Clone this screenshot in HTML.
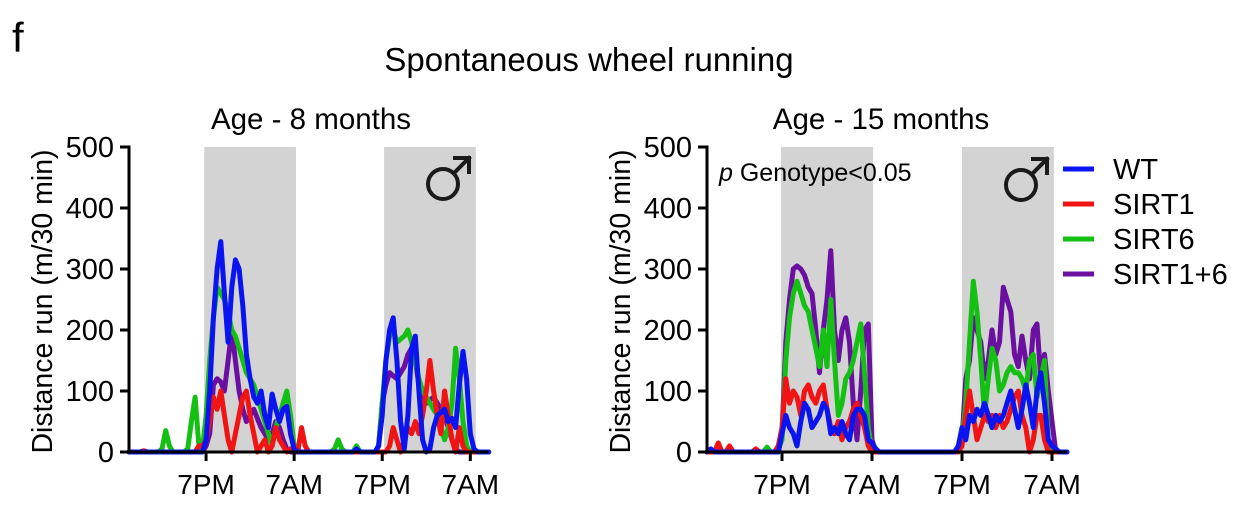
<!DOCTYPE html>
<html><head><meta charset="utf-8">
<style>
html,body{margin:0;padding:0;background:#fff;}
svg{display:block;font-family:"Liberation Sans",Arial,sans-serif;}
</style></head>
<body>
<svg id="fig" width="1238" height="517" viewBox="0 0 1238 517">
<text x="12" y="52" font-size="42">f</text>
<text x="589" y="71" font-size="33" text-anchor="middle">Spontaneous wheel running</text>
<text x="311" y="129" font-size="29.5" text-anchor="middle">Age - 8 months</text>
<text x="881" y="129" font-size="29.5" text-anchor="middle">Age - 15 months</text>
<g id="legend"></g>
</svg>
<script>
// ---------- data ----------
const seriesNames = ["WT","SIRT1","SIRT6","SIRT1+6"];
const yTicks = [0,100,200,300,400,500];
const xTickLabels = ["7PM","7AM","7PM","7AM"];

// Left chart (8 months), 30-min bins
const leftWT = [0,0,0,0,0,0,0,0,0,0,0,0,0,0,0,0,0,0,0,0,0,20,100,220,300,345,260,180,270,315,300,240,160,120,90,80,100,60,40,95,70,50,70,75,30,5,0,0,0,0,0,0,0,0,0,0,0,0,0,0,0,0,5,0,0,0,0,0,10,60,150,200,220,150,50,5,60,170,190,100,20,0,5,40,60,65,70,50,55,40,110,165,120,30,5,0,0,0,0];
const leftSIRT1 = [0,0,0,0,2,0,0,0,0,0,0,0,0,0,0,0,0,0,0,10,10,20,50,90,70,100,60,20,0,30,60,90,100,60,30,0,10,20,0,10,40,20,10,0,5,0,0,40,10,0,0,0,0,0,0,0,0,0,0,0,0,0,0,0,0,0,0,0,0,0,0,10,40,20,0,20,40,30,50,30,60,100,150,100,60,30,100,60,20,0,40,10,0,0,0,0,0,0,0];
const leftSIRT6 = [0,0,0,0,0,0,0,0,0,5,35,10,0,0,0,0,5,50,90,15,5,60,150,220,270,260,250,230,200,190,170,150,130,120,110,90,70,50,30,10,40,60,80,100,60,10,0,0,0,0,0,0,0,0,0,0,5,20,5,0,0,0,10,0,0,0,0,0,10,80,150,190,200,180,185,190,200,180,150,120,100,90,80,70,60,40,20,40,80,170,120,50,10,0,0,0,0,0];
const leftSIRT16 = [0,0,0,0,0,0,0,0,0,0,0,0,0,0,0,0,0,0,0,0,0,10,30,110,120,115,100,150,200,150,100,70,50,60,70,55,40,30,20,30,50,40,20,5,0,0,0,0,0,0,0,0,0,0,0,0,0,0,0,0,0,0,0,0,0,0,0,0,10,80,110,130,125,120,130,140,160,170,150,110,90,80,85,90,80,70,60,40,20,5,0,0,0,0,0,0];

// Right chart (15 months)
const rightWT = [0,5,0,0,0,0,0,0,0,0,0,0,0,0,0,0,0,0,0,0,30,60,40,30,10,50,80,70,40,50,60,80,70,30,40,30,50,30,20,60,70,70,60,20,15,5,0,0,0,0,0,0,0,0,0,0,0,0,0,0,0,0,0,0,0,0,0,10,40,20,60,50,70,60,80,60,40,60,50,60,80,100,70,40,70,110,80,40,100,130,80,20,10,5,0,0,0];
const rightSIRT1 = [0,0,0,15,0,0,10,0,0,0,0,0,0,5,0,0,0,0,0,10,40,120,80,100,90,60,100,110,90,80,100,110,70,40,30,50,20,40,50,70,80,60,40,10,0,0,0,0,0,0,0,0,0,0,0,0,0,0,0,0,0,0,0,0,0,0,0,0,10,60,100,60,20,40,60,50,60,40,60,40,50,70,90,100,60,40,0,20,60,60,20,0,0,0,0,0,0];
const rightSIRT6 = [0,0,0,0,0,0,0,0,0,0,0,0,0,0,0,0,8,0,0,5,20,150,220,260,280,260,240,230,200,170,140,200,140,250,150,60,80,120,130,150,180,210,130,40,0,0,0,0,0,0,0,0,0,0,0,0,0,0,0,0,0,0,0,0,0,0,0,0,20,80,180,280,230,150,60,120,170,150,100,110,130,140,130,130,120,100,150,160,90,120,150,10,0,0,0,0,0];
const rightSIRT16 = [0,0,0,0,0,0,0,0,0,0,0,0,0,0,0,0,0,0,0,0,30,180,250,300,305,300,290,270,260,200,130,200,250,330,200,150,200,220,180,80,20,100,200,210,20,0,0,0,0,0,0,0,0,0,0,0,0,0,0,0,0,0,0,0,0,0,0,0,20,120,150,220,200,180,120,150,200,160,180,270,250,230,160,140,190,150,120,200,210,120,160,100,50,0,0,0,0];

const colors = ["#0a14f0","#f01414","#14c014","#6a0fa0"];

// ---------- drawing ----------
const NS="http://www.w3.org/2000/svg";
const svg=document.getElementById('fig');
function mk(tag,attrs,parent){const e=document.createElementNS(NS,tag);for(const k in attrs)e.setAttribute(k,attrs[k]);(parent||svg).appendChild(e);return e;}

function drawChart(cfg){
  const g=mk('g',{});
  
  
  const y=v=>cfg.y0-(v/500)*(cfg.y0-cfg.y500);
  const x=i=>cfg.x0+i*cfg.step;
  const xEnd=x(cfg.series[0].length-1);
  cfg.dark.forEach(d=>{
    const r=mk('rect',{x:x(d[0]),y:cfg.y500,width:x(d[1])-x(d[0]),height:cfg.y0-cfg.y500,fill:'#d3d3d3'},g);
    
    
  });
  const order=[3,2,1,0];
  order.forEach(s=>{
    const vals=cfg.series[s];
    const pts=vals.map((v,i)=>x(i).toFixed(1)+','+y(v).toFixed(1)).join(' ');
    const pl=mk('polyline',{points:pts,fill:'none',stroke:colors[s],'stroke-width':5,'stroke-linejoin':'round','stroke-linecap':'round'},g);
    
    
  });
  const ax=mk('line',{x1:cfg.x0,y1:cfg.y500-1.5,x2:cfg.x0,y2:cfg.y0+1.5,stroke:'#000','stroke-width':3},g);
  
  
  yTicks.forEach(t=>{
    mk('line',{x1:cfg.x0-9,y1:y(t),x2:cfg.x0,y2:y(t),stroke:'#000','stroke-width':3},g);
    const tl=mk('text',{x:cfg.x0-15,y:y(t)+10,'font-size':29,'text-anchor':'end'},g);
    tl.textContent=t;
    
    
  });
  const xa=mk('line',{x1:cfg.x0,y1:cfg.y0,x2:xEnd,y2:cfg.y0,stroke:'#000','stroke-width':3},g);
  
  
  cfg.ticks.forEach((ti,k)=>{
    mk('line',{x1:x(ti),y1:cfg.y0,x2:x(ti),y2:cfg.y0+9,stroke:'#000','stroke-width':3},g);
    const tl=mk('text',{x:x(ti),y:cfg.y0+42,'font-size':28,'text-anchor':'middle'},g);
    tl.textContent=xTickLabels[k];
    
    
  });
  const yt=mk('text',{x:0,y:0,'font-size':28.5,'text-anchor':'middle',transform:`translate(${cfg.x0-77},${(cfg.y0+cfg.y500)/2+2}) rotate(-90)`},g);
  yt.textContent='Distance run (m/30 min)';
  
  
  // male symbol drawn with shapes
  const ms=mk('g',{fill:'none',stroke:'#1a1a1a','stroke-width':4,'stroke-linecap':'square'},g);
  
  
  const cx=cfg.male[0], cy=cfg.male[1];
  mk('circle',{cx:cx,cy:cy,r:15},ms);
  mk('line',{x1:cx+11,y1:cy-11,x2:cx+26,y2:cy-26},ms);
  mk('polyline',{points:`${cx+12},${cy-26} ${cx+26},${cy-26} ${cx+26},${cy-12}`},ms);
  return g;
}

drawChart({name:'left-chart',x0:129,step:3.67,y0:452,y500:147,
  series:[leftWT,leftSIRT1,leftSIRT6,leftSIRT16],dark:[[20.5,45.5],[69.5,94.5]],ticks:[21,45,69,93],male:[443,184]});
drawChart({name:'right-chart',x0:707,step:3.75,y0:452,y500:147,
  series:[rightWT,rightSIRT1,rightSIRT6,rightSIRT16],dark:[[19.7,44.3],[68,92.5]],ticks:[20,44,68,92],male:[1021,185]});

const p=mk('text',{x:719,y:181,'font-size':25});


p.innerHTML='<tspan font-style="italic">p</tspan> Genotype&lt;0.05';

const lg=document.getElementById('legend');
const legY=[169,204,239,274];
seriesNames.forEach((n,i)=>{
  const l=mk('line',{x1:1063,y1:legY[i],x2:1094,y2:legY[i],stroke:colors[i],'stroke-width':5},lg);
  
  
  const t=mk('text',{x:1113,y:legY[i]+10,'font-size':29},lg);
  t.textContent=n;
  
  
});
</script>
</body></html>
